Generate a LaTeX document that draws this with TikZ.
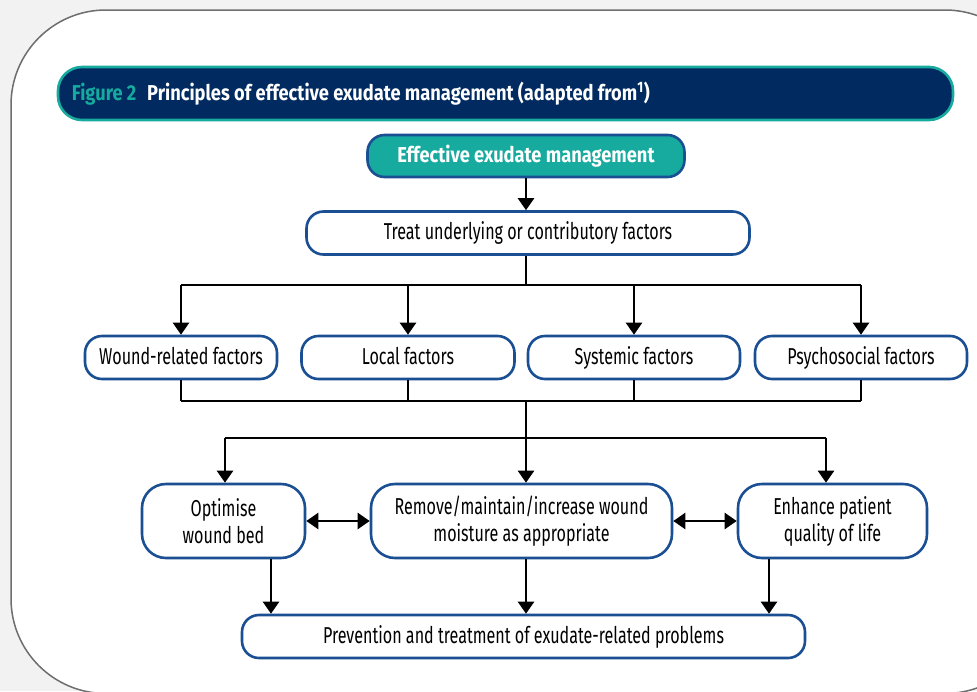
\documentclass[tikz,border=0pt]{standalone}
\usepackage{fontspec}
\setmainfont{Fira Sans}[FakeStretch=0.70]
\newfontfamily\boldwide{Fira Sans}[FakeStretch=0.85]
\usetikzlibrary{arrows.meta,positioning}
\definecolor{pagegray}{HTML}{F2F2F2}
\definecolor{panelline}{HTML}{6E6E6E}
\definecolor{headnavy}{HTML}{002A60}
\definecolor{headteal}{HTML}{17AA9E}
\definecolor{boxblue}{HTML}{1B4F93}
\tikzset{
  txt/.style={font=\fontsize{23}{27}\selectfont},
  boldtxt/.style={font=\boldwide\bfseries\fontsize{21.5}{24}\selectfont},
  flowbox/.style={txt, draw=boxblue, line width=2.6pt, fill=white,
    rounded corners=17pt, minimum height=43pt, inner sep=0pt, align=center,
    text height=17pt, text depth=4pt},
  tallbox/.style={flowbox, text height=, text depth=, minimum height=74pt,
    rounded corners=24pt},
  startbox/.style={flowbox, boldtxt, fill=headteal, text=white},
  wire/.style={line width=2.4pt},
  link/.style={wire, -{Triangle[length=12pt,width=16pt]}},
  twoway/.style={wire, {Triangle[length=12pt,width=16pt]}-{Triangle[length=12pt,width=16pt]}}
}
\begin{document}
\begin{tikzpicture}[x=1pt,y=-1pt]
\useasboundingbox (0,0) rectangle (977,691);
\begin{scope}
  \clip (0,0) rectangle (977,691);
  \fill[pagegray] (0,0) rectangle (977,691);
  \draw[panelline, line width=1.5pt, fill=white, rounded corners=95pt]
    (11,10) rectangle (1040,693.5);
\end{scope}

% title bar
\node[draw=headteal, fill=headnavy, line width=2.6pt, rounded corners=24pt,
  minimum width=895pt, minimum height=53pt] (head) at (505.5,93.5) {};
\node[boldtxt, anchor=west, right=15pt of head.west, inner sep=0pt] (headtext)
  {\textcolor{headteal}{Figure 2}\enspace\textcolor{white}{Principles of effective exudate management (adapted from\textsuperscript{1})}};

% boxes
\node[startbox, minimum width=317pt, minimum height=42pt] (effective) at (526,156) {Effective exudate management};
\node[flowbox, minimum width=443pt] (treat) at (528,233) {Treat underlying or contributory factors};
\foreach \x/\name/\w/\label in {181/wound/192/Wound-related factors,
    408/local/213/Local factors, 634/systemic/212/Systemic factors,
    861/psycho/212/Psychosocial factors}{
  \node[flowbox, minimum width=\w pt] (\name) at (\x,357.5) {\label};
}
\node[tallbox, minimum width=163pt] (optimise) at (223.5,521) {Optimise\\wound bed};
\node[tallbox, minimum width=301pt] (remove) at (521.5,521) {Remove/maintain/increase wound\\moisture as appropriate};
\node[tallbox, minimum width=189pt] (enhance) at (832.5,521) {Enhance patient\\quality of life};
\node[flowbox, minimum width=563pt] (prevent) at (523.5,636.5) {Prevention and treatment of exudate-related problems};

% connectors
\coordinate (fanrow) at (0,285);
\coordinate (joinrow) at (0,401);
\coordinate (splitrow) at (0,438);
\coordinate (spine) at (526,0);
\draw[link] (effective) -- (effective |- treat.north);
\draw[wire] (spine |- treat.south) -- (spine |- fanrow);
\draw[wire] (wound |- fanrow) -- (psycho |- fanrow);
\foreach \f in {wound,local,systemic,psycho}{
  \draw[link] (\f |- fanrow) -- (\f.north);
  \draw[wire] (\f.south) -- (\f |- joinrow);
}
\draw[wire] (wound |- joinrow) -- (psycho |- joinrow);
\draw[wire] (spine |- joinrow) -- (spine |- splitrow);
\coordinate (toopt) at (225,0);
\coordinate (toenh) at (826,0);
\draw[wire] (toopt |- splitrow) -- (toenh |- splitrow);
\draw[link] (toopt |- splitrow) -- (toopt |- optimise.north);
\draw[link] (spine |- splitrow) -- (spine |- remove.north);
\draw[link] (toenh |- splitrow) -- (toenh |- enhance.north);
\draw[twoway] (optimise.east) -- (remove.west);
\draw[twoway] (remove.east) -- (enhance.west);
\coordinate (fromopt) at (271,0);
\coordinate (fromenh) at (769,0);
\draw[link] (fromopt |- optimise.south) -- (fromopt |- prevent.north);
\draw[link] (spine |- remove.south) -- (spine |- prevent.north);
\draw[link] (fromenh |- enhance.south) -- (fromenh |- prevent.north);
\end{tikzpicture}
\end{document}
